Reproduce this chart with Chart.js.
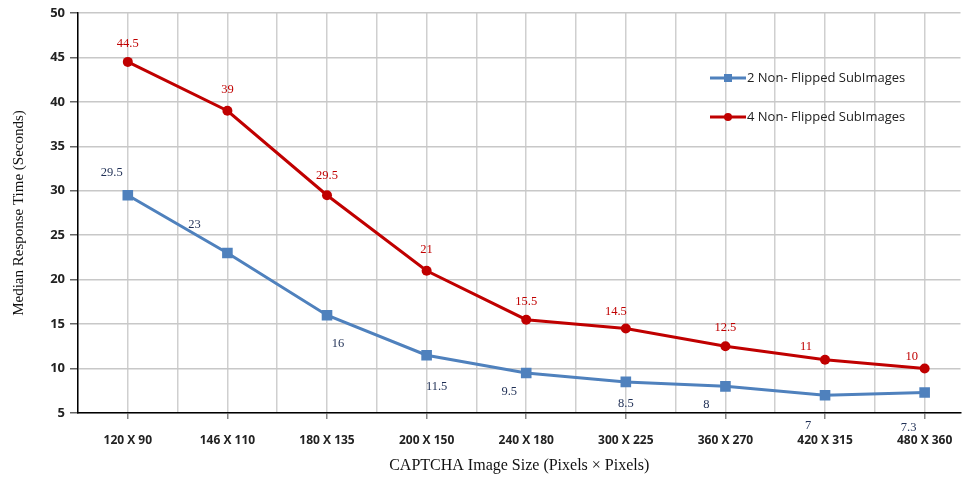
<!DOCTYPE html>
<html>
<head>
<meta charset="utf-8">
<script src="https://cdn.jsdelivr.net/npm/chart.js@4.4.1/dist/chart.umd.min.js"></script>
<style>
    html, body { margin: 0; padding: 0; background: #fff; }
</style>
</head>
<body>
<canvas id="chart" width="968" height="479"></canvas>
<script>
const categories = ['120 X 90', '146 X 110', '180 X 135', '200 X 150', '240 X 180', '300 X 225', '360 X 270', '420 X 315', '480 X 360'];
const twoSubImages = [29.5, 23, 16, 11.5, 9.5, 8.5, 8, 7, 7.3];
const fourSubImages = [44.5, 39, 29.5, 21, 15.5, 14.5, 12.5, 11, 10];
const yTicks = [5, 10, 15, 20, 25, 30, 35, 40, 45, 50];
const seriesNames = ['2 Non- Flipped SubImages', '4 Non- Flipped SubImages'];

// where each value label sits relative to its point (pixels)
const blueLabelOffsets = [[-16, -23], [-33, -28], [11, 28], [10, 31], [-17, 19], [0, 22], [-19, 18], [-17, 30], [-16, 35]];
const redLabelOffsets = [[0, -18], [0, -21], [0, -20], [0, -21], [0, -18], [-10, -17], [0, -19], [-19, -13], [-13, -12]];

const BLUE = '#4F81BD';
const RED = '#C00000';
const X_MAX = 8.36;

const toPoints = arr => arr.map((v, i) => ({ x: i, y: v }));

// Value labels
const valueLabels = {
    id: 'valueLabels',
    afterDatasetsDraw(chart) {
        const ctx = chart.ctx;
        ctx.save();
        ctx.font = '12.5px "Liberation Serif", "Times New Roman", serif';
        ctx.textAlign = 'center';
        ctx.textBaseline = 'middle';
        chart.data.datasets.forEach((ds, di) => {
            const meta = chart.getDatasetMeta(di);
            const offsets = di === 0 ? blueLabelOffsets : redLabelOffsets;
            ctx.fillStyle = di === 0 ? '#1F2F55' : RED;
            meta.data.forEach((el, i) => {
                const v = ds.data[i].y;
                ctx.fillText(String(v), el.x + offsets[i][0], el.y + offsets[i][1]);
            });
        });
        ctx.restore();
    }
};

// Legend drawn inside the plot
const insideLegend = {
    id: 'insideLegend',
    afterDatasetsDraw(chart) {
        const ctx = chart.ctx;
        const x0 = 710, rows = [78, 117];
        ctx.save();
        chart.data.datasets.forEach((ds, di) => {
            const y = rows[di];
            ctx.strokeStyle = ds.borderColor;
            ctx.lineWidth = 3;
            ctx.beginPath();
            ctx.moveTo(x0, y);
            ctx.lineTo(x0 + 36, y);
            ctx.stroke();
            ctx.fillStyle = ds.borderColor;
            if (di === 0) {
                ctx.fillRect(x0 + 14, y - 4, 8, 8);
            } else {
                ctx.beginPath();
                ctx.arc(x0 + 18, y, 4, 0, Math.PI * 2);
                ctx.fill();
            }
            ctx.fillStyle = '#222';
            ctx.font = '13px "Open Sans", "Noto Sans", sans-serif';
            ctx.textAlign = 'left';
            ctx.textBaseline = 'middle';
            ctx.fillText(ds.label, x0 + 37, y);
        });
        ctx.restore();
    }
};

new Chart(document.getElementById('chart'), {
    type: 'line',
    data: {
        datasets: [
            {
                label: seriesNames[0],
                data: toPoints(twoSubImages),
                borderColor: BLUE,
                backgroundColor: BLUE,
                borderWidth: 3,
                pointStyle: 'rect',
                pointRadius: 7.5,
                pointBorderWidth: 0,
                pointHoverRadius: 7.5,
                tension: 0
            },
            {
                label: seriesNames[1],
                data: toPoints(fourSubImages),
                borderColor: RED,
                backgroundColor: RED,
                borderWidth: 3,
                pointStyle: 'circle',
                pointRadius: 5,
                pointBorderWidth: 0,
                pointHoverRadius: 5,
                tension: 0
            }
        ]
    },
    options: {
        responsive: false,
        animation: false,
        devicePixelRatio: 1,
        layout: { padding: { top: 13, right: 0, left: 6, bottom: 0 } },
        plugins: {
            legend: { display: false },
            tooltip: { enabled: false }
        },
        scales: {
            x: {
                type: 'linear',
                min: -0.5,
                max: X_MAX,
                afterBuildTicks: scale => {
                    const t = [];
                    for (let v = -0.5; v <= X_MAX; v += 0.5) t.push({ value: v });
                    scale.ticks = t;
                },
                afterFit: scale => { scale.height = 66; scale.paddingRight = 0; },
                grid: {
                    color: '#cfcfcf',
                    lineWidth: 1.5,
                    tickLength: 6,
                    tickColor: c => (Number.isInteger(c.tick.value) ? '#888' : 'rgba(0,0,0,0)')
                },
                border: { color: '#000', width: 1.5 },
                ticks: {
                    autoSkip: false,
                    maxRotation: 0,
                    padding: 14,
                    color: '#222',
                    font: { family: '"Liberation Sans Narrow", "Open Sans", sans-serif', size: 12, weight: 'bold' },
                    callback: v => (Number.isInteger(v) && v >= 0 && v < categories.length ? categories[v] : '')
                },
                title: {
                    display: true,
                    text: 'CAPTCHA Image Size (Pixels × Pixels)',
                    color: '#111',
                    padding: { top: 0 },
                    font: { family: '"Liberation Serif", "Times New Roman", serif', size: 16 }
                }
            },
            y: {
                min: 5,
                max: 50,
                afterBuildTicks: scale => { scale.ticks = yTicks.map(v => ({ value: v })); },
                afterFit: scale => { scale.width = 72; },
                grid: {
                    color: '#c8c8c8',
                    lineWidth: 1.5,
                    tickLength: 8,
                    tickColor: '#666'
                },
                border: { color: '#000', width: 1.5 },
                ticks: {
                    padding: 5,
                    color: '#222',
                    font: { family: '"Liberation Sans Narrow", "Open Sans", sans-serif', size: 13, weight: 'bold' }
                },
                title: {
                    display: true,
                    text: 'Median Response Time (Seconds)',
                    color: '#111',
                    padding: { bottom: 2 },
                    font: { family: '"Liberation Serif", "Times New Roman", serif', size: 15 }
                }
            }
        }
    },
    plugins: [valueLabels, insideLegend]
});
</script>
</body>
</html>
